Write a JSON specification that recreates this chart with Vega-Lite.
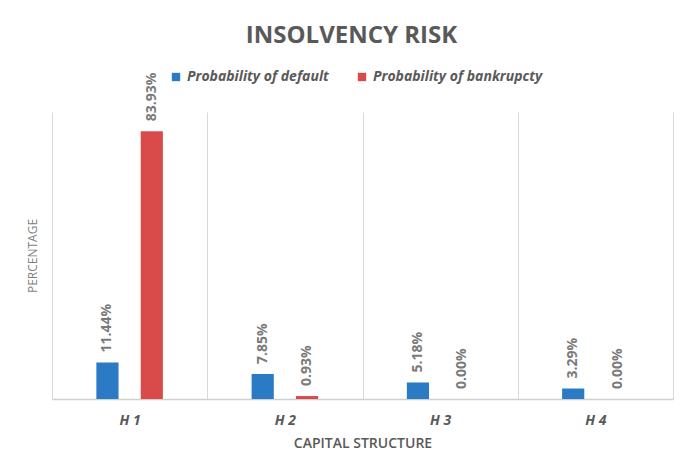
{
  "$schema": "https://vega.github.io/schema/vega-lite/v6.json",
  "width": 621,
  "height": 287,
  "autosize": {"type": "none"},
  "padding": {"left": 52, "top": 112, "right": 7, "bottom": 73},
  "background": "white",
  "title": {
    "text": "INSOLVENCY RISK",
    "font": "Open Sans",
    "fontSize": 24,
    "fontWeight": "bold",
    "color": "#595959",
    "anchor": "middle",
    "dx": -11,
    "offset": 22
  },
  "data": {
    "values": [
      {"structure": "H1", "series": "Probability of default", "value": 0.1144},
      {"structure": "H1", "series": "Probability of bankrupcty", "value": 0.8393},
      {"structure": "H2", "series": "Probability of default", "value": 0.0785},
      {"structure": "H2", "series": "Probability of bankrupcty", "value": 0.0093},
      {"structure": "H3", "series": "Probability of default", "value": 0.0518},
      {"structure": "H3", "series": "Probability of bankrupcty", "value": 0.0},
      {"structure": "H4", "series": "Probability of default", "value": 0.0329},
      {"structure": "H4", "series": "Probability of bankrupcty", "value": 0.0}
    ]
  },
  "encoding": {
    "x": {
      "field": "structure",
      "type": "nominal",
      "scale": {"paddingInner": 0, "paddingOuter": 0},
      "axis": {
        "title": "CAPITAL STRUCTURE",
        "titleFont": "Open Sans",
        "titleFontSize": 14,
        "titleFontWeight": 600,
        "titleColor": "#595959",
        "titlePadding": 9,
        "labelAngle": 0,
        "labelFont": "Open Sans",
        "labelFontSize": 14,
        "labelFontWeight": "bold",
        "labelFontStyle": "italic",
        "labelColor": "#595959",
        "labelPadding": 14,
        "labelExpr": "substring(datum.label, 0, 1) + ' ' + substring(datum.label, 1)",
        "ticks": false,
        "grid": true,
        "tickBand": "extent",
        "gridColor": "#d9d9d9",
        "gridWidth": 1,
        "domainColor": "#d0d0d0",
        "domainWidth": 1.5
      }
    },
    "xOffset": {
      "field": "series",
      "type": "nominal",
      "scale": {"domain": ["Probability of default", "Probability of bankrupcty"], "paddingInner": 0.5, "paddingOuter": 1.2}
    },
    "y": {
      "field": "value",
      "type": "quantitative",
      "scale": {"domain": [0, 0.9], "nice": false},
      "axis": {
        "title": "PERCENTAGE",
        "titleFont": "Open Sans",
        "titleFontSize": 12,
        "titleFontWeight": "normal",
        "titleColor": "#7f7f7f",
        "titlePadding": 13,
        "labels": false,
        "ticks": false,
        "domain": false,
        "grid": false
      }
    }
  },
  "layer": [
    {
      "mark": {"type": "bar"},
      "encoding": {
        "color": {
          "field": "series",
          "type": "nominal",
          "scale": {"domain": ["Probability of default", "Probability of bankrupcty"], "range": ["#2A7BC4", "#D94B4B"]},
          "legend": {
            "title": null,
            "orient": "none",
            "legendX": 117,
            "legendY": -42,
            "direction": "horizontal",
            "symbolType": "square",
            "symbolSize": 70,
            "symbolStrokeWidth": 0,
            "labelFont": "Open Sans",
            "labelFontSize": 14,
            "labelFontWeight": "bold",
            "labelFontStyle": "italic",
            "labelColor": "#595959",
            "labelOffset": 4,
            "columnPadding": 26,
            "labelLimit": 300
          }
        }
      }
    },
    {
      "mark": {
        "type": "text",
        "angle": 270,
        "align": "left",
        "baseline": "middle",
        "dx": 10,
        "font": "Open Sans",
        "fontSize": 14,
        "fontWeight": "bold",
        "color": "#7a7a7a"
      },
      "encoding": {
        "text": {"field": "value", "type": "quantitative", "format": ".2%"}
      }
    }
  ],
  "config": {
    "view": {"stroke": null}
  }
}
